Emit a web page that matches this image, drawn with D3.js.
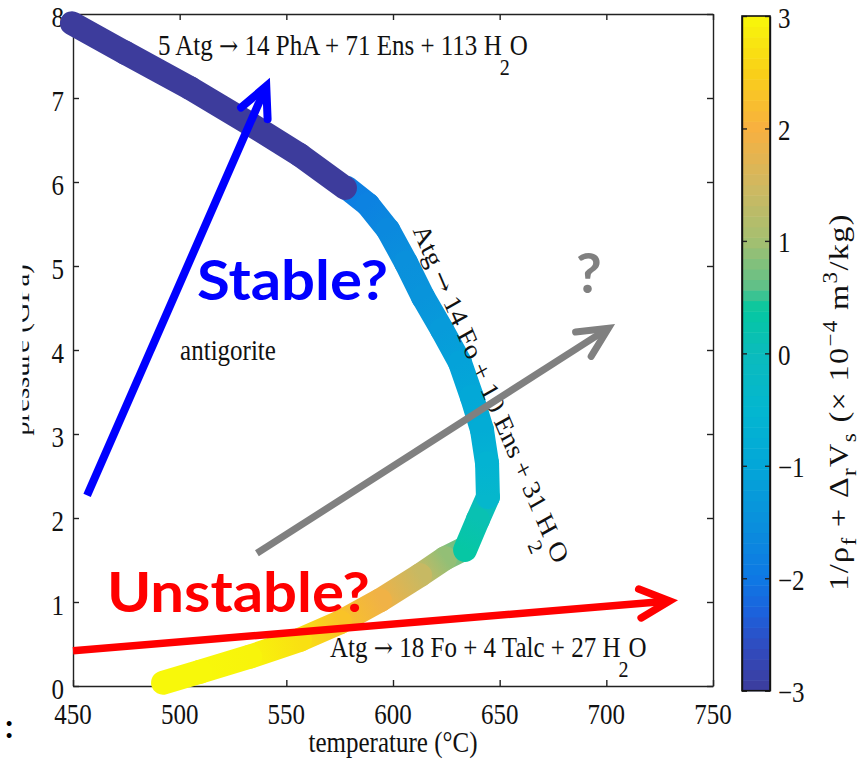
<!DOCTYPE html>
<html>
<head>
<meta charset="utf-8">
<script src="https://cdn.jsdelivr.net/npm/d3@7"></script>
<style>
  html, body { margin: 0; padding: 0; background: #fff; }
  svg { display: block; }
</style>
</head>
<body>
<svg id="chart" width="867" height="762"></svg>
<script>
// ---------------- DATA ----------------
const xTicks = [450, 500, 550, 600, 650, 700, 750];
const yTicks = [0, 1, 2, 3, 4, 5, 6, 7, 8];
const cbTicks = [-3, -2, -1, 0, 1, 2, 3];

// reaction curve pieces: temperature (°C), pressure (GPa), colour value (1e-4 m^3/kg)
const tempTop = [449.5, 474.4, 504.8, 533.0, 556.4, 577.5];
const presTop = [7.89, 7.54, 7.12, 6.69, 6.32, 5.93];
const valTop  = [-3, -3, -3, -3, -3, -3];

const tempMid = [578.4, 588.3, 597.7, 606.1, 614.1, 623.0, 631.4, 637.0, 641.7, 644.1, 644.5];
const presMid = [5.93, 5.73, 5.43, 5.04, 4.63, 4.24, 3.85, 3.44, 3.05, 2.65, 2.25];
const valMid  = [-1.9, -1.8, -1.65, -1.5, -1.4, -1.25, -1.1, -0.95, -0.8, -0.6, -0.4];

const tempLow = [644.5, 639.8, 633.8];
const presLow = [2.25, 1.98, 1.62];
const valLow  = [-0.1, 0.15, 0.35];

const tempBot = [633.8, 624.4, 612.7, 593.9, 575.2, 556.4, 533.0, 509.5, 492.2];
const presBot = [1.64, 1.52, 1.32, 1.02, 0.76, 0.55, 0.35, 0.17, 0.04];
const valBot  = [0.6, 0.9, 1.4, 1.9, 2.3, 2.7, 2.95, 3.0, 3.0];

// annotation arrows: [T0, P0, T1, P1]
const arrowStable   = [456.6, 2.27, 542.3, 7.24];
const arrowQuestion = [536.2, 1.58, 704.1, 4.31];
const arrowUnstable = [450.0, 0.42, 733.6, 1.02];

// colormap (parula-like) value -> colour
const cmapValues = [-3.0, -2.6, -2.3, -2.0, -1.5, -1.0, -0.5, 0.0, 0.4, 0.6, 1.0, 1.5, 2.0, 2.5, 3.0];
const cmapColors = ["#3d3c9c", "#2f4cc0", "#1c62dc", "#0e78e4", "#0a90dc", "#03a6d8", "#03b6d0",
                    "#0bbcbc", "#05c8a0", "#60c088", "#a4bf70", "#d0b860", "#f8b040", "#f9d018", "#f8f80a"];

// ---------------- SETUP ----------------
const svg = d3.select("#chart");
const plot = {left: 73, right: 713, top: 14, bottom: 686};
const cb = {left: 742, right: 770, top: 16, bottom: 690.7};
const K = 1.15;           // vertical stretch of the source figure's text
const SERIF = "'Liberation Serif', 'Times New Roman', serif";
const ARROWFONT = "'DejaVu Serif', 'DejaVu Sans', serif";
const SANS_BOLD = "Lato, 'Open Sans', 'Noto Sans', sans-serif";

const x = d3.scaleLinear().domain([450, 750]).range([plot.left, plot.right]);
const y = d3.scaleLinear().domain([0, 8]).range([plot.bottom, plot.top]);
const cy = d3.scaleLinear().domain([-3, 3]).range([cb.bottom, cb.top]);
const color = d3.scaleLinear().domain(cmapValues).range(cmapColors).interpolate(d3.interpolateRgb).clamp(true);

const defs = svg.append("defs");

// stretched serif text helper
function stext(parent, px, py, angleDeg, size, anchor) {
  const th = angleDeg * Math.PI / 180;
  const a2 = Math.atan2(Math.sin(th), K * Math.cos(th)) * 180 / Math.PI;
  const g = parent.append("g").attr("transform", `translate(${px},${py}) scale(1,${K})`);
  return g.append("text")
    .attr("transform", `rotate(${a2})`)
    .attr("font-family", SERIF)
    .attr("font-size", size)
    .attr("fill", "#111")
    .attr("text-anchor", anchor || "start");
}

// ---------------- CURVE ----------------
let gid = 0;
function drawPiece(temps, press, vals, g) {
  for (let i = 0; i < temps.length - 1; i++) {
    const x1 = x(temps[i]), y1 = y(press[i]), x2 = x(temps[i + 1]), y2 = y(press[i + 1]);
    const id = "seg" + (gid++);
    const lg = defs.append("linearGradient").attr("id", id)
      .attr("gradientUnits", "userSpaceOnUse")
      .attr("x1", x1).attr("y1", y1).attr("x2", x2).attr("y2", y2);
    lg.append("stop").attr("offset", 0).attr("stop-color", color(vals[i]));
    lg.append("stop").attr("offset", 1).attr("stop-color", color(vals[i + 1]));
    g.append("line")
      .attr("x1", x1).attr("y1", y1).attr("x2", x2).attr("y2", y2)
      .attr("stroke", `url(#${id})`)
      .attr("stroke-width", 24)
      .attr("stroke-linecap", "round");
  }
}

// ---------------- AXES ----------------
const axG = svg.append("g").attr("class", "axes");
function styleAxis(sel) {
  sel.selectAll("path, line").attr("stroke", "#222").attr("stroke-width", 1.4);
  sel.selectAll("text").remove();
}
axG.append("g").attr("transform", `translate(0,${plot.bottom})`)
  .call(d3.axisBottom(x).tickValues(xTicks).tickSizeInner(-6).tickSizeOuter(0)).call(styleAxis);
axG.append("g").attr("transform", `translate(0,${plot.top})`)
  .call(d3.axisTop(x).tickValues(xTicks).tickSizeInner(-6).tickSizeOuter(0)).call(styleAxis);
axG.append("g").attr("transform", `translate(${plot.left},0)`)
  .call(d3.axisLeft(y).tickValues(yTicks).tickSizeInner(-6).tickSizeOuter(0)).call(styleAxis);
axG.append("g").attr("transform", `translate(${plot.right},0)`)
  .call(d3.axisRight(y).tickValues(yTicks).tickSizeInner(-6).tickSizeOuter(0)).call(styleAxis);

// tick labels
xTicks.forEach(t => stext(svg, x(t), 724, 0, 25, "middle").text(t));
yTicks.forEach(t => stext(svg, 64, y(t) + 12.5, 0, 25, "end").text(t));

// axis titles
stext(svg, x(600), 752, 0, 25, "middle").text("temperature (°C)");
defs.append("clipPath").attr("id", "ylabClip").append("rect")
  .attr("x", 22.5).attr("y", 150).attr("width", 40).attr("height", 400);
const ylabG = svg.append("g").attr("clip-path", "url(#ylabClip)");
stext(ylabG, 29, (plot.top + plot.bottom) / 2, -90, 25, "middle").text("pressure (GPa)");

// ---------------- CURVE DRAW ----------------
const curveG = svg.append("g").attr("class", "curve");
drawPiece(tempBot, presBot, valBot, curveG);
drawPiece(tempLow, presLow, valLow, curveG);
drawPiece(tempMid, presMid, valMid, curveG);
drawPiece(tempTop, presTop, valTop, curveG);

// ---------------- REACTION LABELS ----------------
function arrowGlyph(t) {
  t.append("tspan").attr("font-family", ARROWFONT).attr("font-size", 23).text("\u2192");
}
function h2o(t, subDy) {
  t.append("tspan").text("H");
  t.append("tspan").attr("font-size", 20).attr("dy", subDy).attr("dx", -2).text("2");
  t.append("tspan").attr("dy", -subDy).text("O");
}
let t1 = stext(svg, x(489.8), y(7.51), 0, 25, "start");
t1.append("tspan").text("5 Atg ");
arrowGlyph(t1);
t1.append("tspan").text(" 14 PhA + 71 Ens + 113 ");
h2o(t1, 17);

let t2 = stext(svg, x(570.5), y(0.345), 0, 25, "start");
t2.append("tspan").text("Atg ");
arrowGlyph(t2);
t2.append("tspan").text(" 18 Fo + 4 Talc + 27 ");
h2o(t2, 17);

let t3 = stext(svg, x(642.5), y(3.43), 67, 25, "middle");
t3.append("tspan").text("Atg ");
arrowGlyph(t3);
t3.append("tspan").text(" 14 Fo + 10 Ens + 31 ");
h2o(t3, 17);

stext(svg, x(500.2), y(3.88), 0, 25, "start").text("antigorite");

// ---------------- ARROWS ----------------
function arrow(a, col, w) {
  const x0 = x(a[0]), y0 = y(a[1]), xe = x(a[2]), ye = y(a[3]);
  const dx = xe - x0, dy = ye - y0, L = Math.hypot(dx, dy);
  const ux = dx / L, uy = dy / L;
  const spread = 26 * Math.PI / 180, hl = 33;
  const back0 = (w / 2) / Math.sin(spread);       // keep mitred tip at the end point
  const x1 = xe - ux * back0, y1 = ye - uy * back0;
  const g = svg.append("g");
  g.append("line").attr("x1", x0).attr("y1", y0)
    .attr("x2", x1 - ux * 3).attr("y2", y1 - uy * 3)
    .attr("stroke", col).attr("stroke-width", w).attr("stroke-linecap", "butt");
  const back = Math.atan2(-uy, -ux);
  const w1 = [x1 + hl * Math.cos(back + spread), y1 + hl * Math.sin(back + spread)];
  const w2 = [x1 + hl * Math.cos(back - spread), y1 + hl * Math.sin(back - spread)];
  g.append("path").attr("d", `M${w1[0]},${w1[1]}L${x1},${y1}L${w2[0]},${w2[1]}`)
    .attr("fill", "none").attr("stroke", col).attr("stroke-width", w)
    .attr("stroke-linecap", "round").attr("stroke-linejoin", "miter").attr("stroke-miterlimit", 10);
}
arrow(arrowStable, "#0000ff", 8);
arrow(arrowQuestion, "#808080", 7);
arrow(arrowUnstable, "#ff0000", 7.5);

// big annotation words
svg.append("text").attr("x", x(508.1)).attr("y", y(4.595))
  .attr("font-family", SANS_BOLD).attr("font-weight", 700).attr("font-size", 56)
  .attr("fill", "#0000ff").attr("textLength", 191).attr("lengthAdjust", "spacingAndGlyphs")
  .text("Stable?");
svg.append("text").attr("x", x(465.9)).attr("y", y(0.881))
  .attr("font-family", SANS_BOLD).attr("font-weight", 700).attr("font-size", 56)
  .attr("fill", "#ff0000").attr("textLength", 263).attr("lengthAdjust", "spacingAndGlyphs")
  .text("Unstable?");
svg.append("text").attr("x", x(685.8)).attr("y", y(4.68))
  .attr("font-family", SANS_BOLD).attr("font-weight", 700).attr("font-size", 56)
  .attr("fill", "#808080").text("?");

// stray colon at bottom-left
svg.append("text").attr("x", 5).attr("y", 738)
  .attr("font-family", SANS_BOLD).attr("font-weight", 700).attr("font-size", 32)
  .attr("fill", "#000").text(":");

// ---------------- COLORBAR ----------------
const cbG = svg.append("g").attr("class", "colorbar");
const nSteps = 64;
const stepVals = d3.range(nSteps).map(i => -3 + (i + 0.5) * 6 / nSteps);
cbG.selectAll("rect.step").data(stepVals).enter().append("rect")
  .attr("class", "step")
  .attr("x", cb.left)
  .attr("width", cb.right - cb.left)
  .attr("y", v => cy(v + 3 / nSteps))
  .attr("height", v => cy(v - 3 / nSteps) - cy(v + 3 / nSteps) + 0.5)
  .attr("fill", v => color(v));
cbG.append("g").attr("transform", `translate(${cb.left},0)`)
  .call(d3.axisLeft(cy).tickValues(cbTicks).tickSizeInner(-5).tickSizeOuter(0)).call(styleAxis);
cbG.append("g").attr("transform", `translate(${cb.right},0)`)
  .call(d3.axisRight(cy).tickValues(cbTicks).tickSizeInner(-5).tickSizeOuter(0)).call(styleAxis);
cbG.append("rect").attr("x", cb.left).attr("y", cb.top)
  .attr("width", cb.right - cb.left).attr("height", cb.bottom - cb.top)
  .attr("fill", "none").attr("stroke", "#111").attr("stroke-width", 1.6);
cbTicks.forEach(t => stext(svg, 778, cy(t) + 11.5, 0, 25, "start").text(t < 0 ? "\u2212" + Math.abs(t) : t));

// colorbar title
const cbt = stext(svg, 848, 402, -90, 28, "middle").attr("letter-spacing", 1.2);
cbt.append("tspan").text("1/\u03C1");
cbt.append("tspan").attr("font-size", 20).attr("dy", 8).text("f");
cbt.append("tspan").attr("dy", -8).text(" + \u0394");
cbt.append("tspan").attr("font-size", 20).attr("dy", 8).text("r");
cbt.append("tspan").attr("dy", -8).text("V");
cbt.append("tspan").attr("font-size", 20).attr("dy", 8).text("s");
cbt.append("tspan").attr("dy", -8).text("  (\u00D7 10");
cbt.append("tspan").attr("font-size", 20).attr("dy", -11).text("\u22124");
cbt.append("tspan").attr("dy", 11).text(" m");
cbt.append("tspan").attr("font-size", 20).attr("dy", -11).text("3");
cbt.append("tspan").attr("dy", 11).text("/kg)");
</script>
</body>
</html>
